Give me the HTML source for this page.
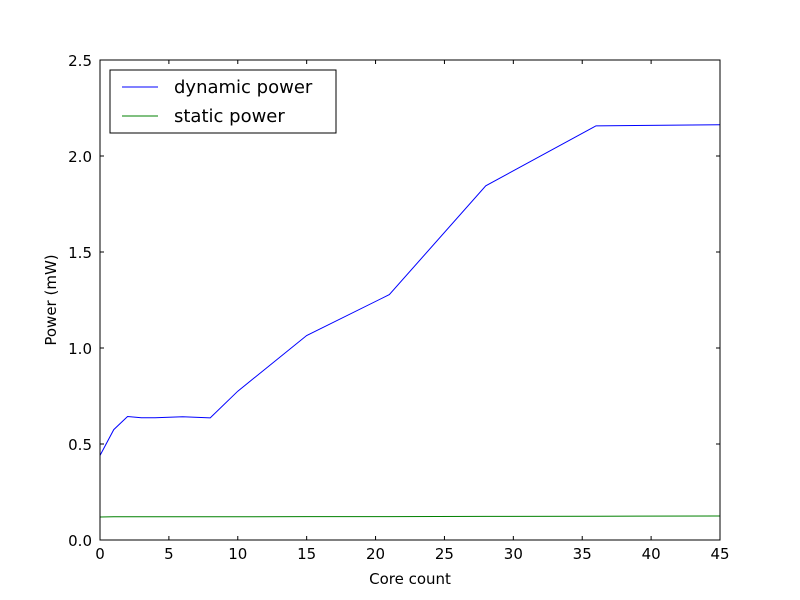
<!DOCTYPE html>
<html><head><meta charset="utf-8"><style>
body{margin:0;background:#fff;}
svg{display:block;font-family:"DejaVu Sans","Liberation Sans",sans-serif;}
</style></head><body>
<svg id="chart" width="800" height="600">
<rect x="0" y="0" width="800" height="600" fill="#fff"/>
<g id="ticks"></g>
<g id="series"></g>
<rect x="100" y="60" width="620" height="480" fill="none" stroke="#000" stroke-width="1"/>
<text x="410" y="584" font-size="15" text-anchor="middle">Core count</text>
<text x="56" y="300" font-size="15" text-anchor="middle" transform="rotate(-90 56 300)">Power (mW)</text>
<g>
<rect x="110" y="70" width="226" height="63" fill="#fff" stroke="#000" stroke-width="1"/>
<line x1="122" y1="87" x2="158" y2="87" stroke="#0000ff" stroke-width="1"/>
<text x="174" y="93" font-size="18">dynamic power</text>
<line x1="122" y1="116" x2="158" y2="116" stroke="#008000" stroke-width="1"/>
<text x="174" y="122" font-size="18">static power</text>
</g>
</svg>
<script>
const cores=[0,1,2,3,4,6,8,10,15,21,28,36,45];
const dynamicPower=[0.44,0.575,0.643,0.637,0.637,0.642,0.636,0.775,1.065,1.278,1.845,2.157,2.163];
const staticPower=[0.12,0.121,0.121,0.121,0.121,0.121,0.121,0.121,0.122,0.122,0.123,0.124,0.125];
const xTicks=[0,5,10,15,20,25,30,35,40,45];
const yTicks=[0.0,0.5,1.0,1.5,2.0,2.5];
const X0=100,X1=720,Y0=540,Y1=60,XMAX=45,YMAX=2.5;
const sx=v=>X0+(v/XMAX)*(X1-X0);
const sy=v=>Y0-(v/YMAX)*(Y0-Y1);
const NS="http://www.w3.org/2000/svg";
const tg=document.getElementById('ticks');
function mk(t,a,p){const e=document.createElementNS(NS,t);for(const k in a)e.setAttribute(k,a[k]);p.appendChild(e);return e;}
xTicks.forEach(v=>{
 const x=sx(v);
 const a=mk('line',{x1:x,y1:Y0,x2:x,y2:Y0-4,stroke:'#000'},tg);
 
 
 const b=mk('line',{x1:x,y1:Y1,x2:x,y2:Y1+4,stroke:'#000'},tg);
 
 
 const t=mk('text',{x:x,y:Y0+19,'font-size':15,'text-anchor':'middle'},tg);
 t.textContent=String(v);
 
 
});
yTicks.forEach(v=>{
 const y=sy(v);
 const a=mk('line',{x1:X0,y1:y,x2:X0+4,y2:y,stroke:'#000'},tg);
 
 
 const b=mk('line',{x1:X1,y1:y,x2:X1-4,y2:y,stroke:'#000'},tg);
 
 
 const t=mk('text',{x:X0-8,y:y+6,'font-size':15,'text-anchor':'end'},tg);
 t.textContent=v.toFixed(1);
 
 
});
const sg=document.getElementById('series');
function line(vals,color,name){
 const pts=cores.map((c,i)=>sx(c)+','+sy(vals[i])).join(' ');
 const p=mk('polyline',{points:pts,fill:'none',stroke:color,'stroke-width':1},sg);
 
 
}
line(dynamicPower,'#0000ff','dynamic-power-line');
line(staticPower,'#008000','static-power-line');
</script>
</body></html>
